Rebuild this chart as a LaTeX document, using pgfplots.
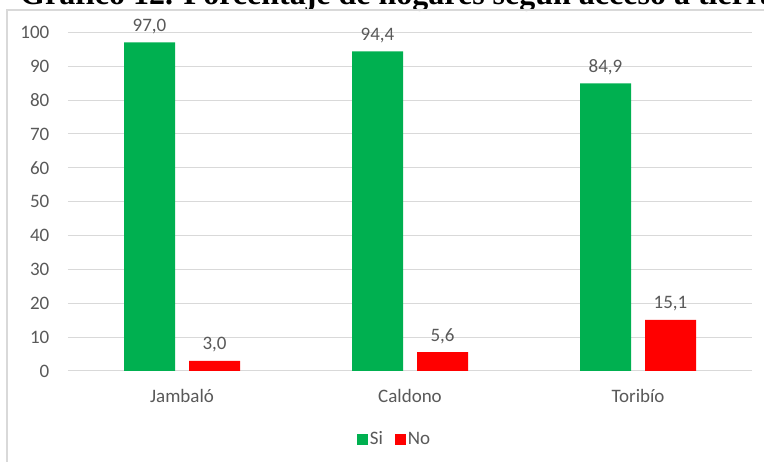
\documentclass[border=0pt]{standalone}
\usepackage{pgfplots}
\pgfplotsset{compat=1.18}
\usepackage{fontspec}
\setmainfont{Carlito}
\newfontfamily\titlefont{Liberation Serif}
\definecolor{txt}{HTML}{595959}
\definecolor{gridc}{HTML}{D9D9D9}
\definecolor{gsi}{HTML}{00B050}
\definecolor{rno}{HTML}{FF0000}
\begin{document}
\begin{tikzpicture}[x=1pt,y=1pt]
\useasboundingbox (0,0) rectangle (764,462);
\fill[white] (0,0) rectangle (764,462);
\node[anchor=base west, inner sep=0pt, font=\titlefont\bfseries\fontsize{32}{38}\selectfont] at (20,457) {Gráfico 12. Porcentaje de hogares según acceso a tierra};
\draw[gridc, line width=1.2pt] (7,-10) -- (7,452) -- (790,452);
\begin{axis}[
  at={(68pt,91pt)}, anchor=south west,
  scale only axis, width=684pt, height=338.7pt,
  xmin=-0.5, xmax=2.5, ymin=0, ymax=100,
  ybar=14pt, bar width=51pt,
  clip=false,
  axis line style={draw=none},
  major tick length=0pt,
  xtick={0,1,2}, xticklabels={Jambaló,Caldono,Toribío},
  ytick={0,10,...,100},
  ymajorgrids, grid style={gridc, line width=1pt},
  /pgf/number format/assume math mode=true,
  tick label style={font=\fontsize{19}{23}\selectfont, text=txt},
  yticklabel style={anchor=east, inner sep=0pt, xshift=-18.5pt},
  xticklabel style={anchor=base, inner sep=0pt, yshift=-32pt},
  nodes near coords,
  nodes near coords style={font=\fontsize{19}{23}\selectfont, text=txt, anchor=base, inner sep=0pt, yshift=11pt,
    /pgf/number format/.cd, fixed, fixed zerofill, precision=1, use comma, assume math mode=true},
  legend columns=2,
  legend style={at={(0.4773,-0.2008)}, anchor=center, draw=none, fill=none,
    inner sep=0pt,
    /tikz/every even column/.append style={column sep=10pt},
    nodes={inner sep=2pt, font=\fontsize{19}{23}\selectfont, text=txt}},
  legend image code/.code={\fill[#1] (0pt,-5.5pt) rectangle (11pt,5.5pt);},
]
\addplot[fill=gsi, draw=none] coordinates {(0,97.0) (1,94.4) (2,84.9)};
\addplot[fill=rno, draw=none] coordinates {(0,3.0) (1,5.6) (2,15.1)};
\legend{Si,No}
\end{axis}
\end{tikzpicture}
\end{document}
